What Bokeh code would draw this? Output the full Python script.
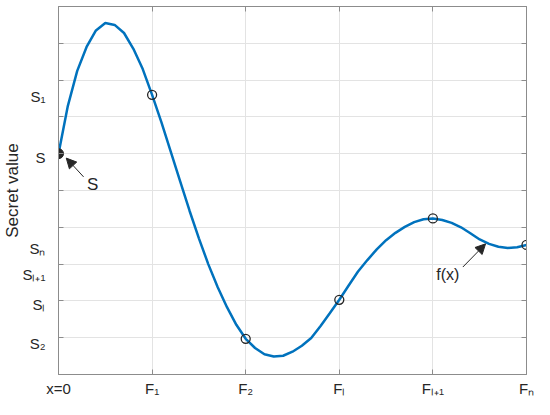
from bokeh.plotting import figure
from bokeh.models import Range1d, FixedTicker, LinearAxis, Label, Arrow, NormalHead
from bokeh.embed import file_html
from bokeh.resources import INLINE

# ---- data ----
curve_x = [0.0, 0.1, 0.2, 0.3, 0.4, 0.5, 0.6, 0.7, 0.8, 0.9,
           1.0, 1.1, 1.2, 1.3, 1.4, 1.5, 1.6, 1.7, 1.8, 1.9,
           2.0, 2.1, 2.2, 2.3, 2.4, 2.5, 2.6, 2.7, 2.8, 2.9,
           3.0, 3.1, 3.2, 3.3, 3.4, 3.5, 3.6, 3.7, 3.8, 3.9,
           4.0, 4.1, 4.2, 4.3, 4.4, 4.5, 4.6, 4.7, 4.8, 4.9, 5.0]
curve_y = [6.00, 7.30, 8.25, 8.90, 9.35, 9.55, 9.50, 9.28, 8.85, 8.30,
           7.60, 6.85, 6.05, 5.25, 4.45, 3.70, 3.00, 2.38, 1.83, 1.35,
           0.97, 0.72, 0.55, 0.49, 0.51, 0.62, 0.78, 0.99, 1.32, 1.67,
           2.03, 2.42, 2.80, 3.11, 3.40, 3.65, 3.85, 4.01, 4.14, 4.22,
           4.24, 4.20, 4.12, 4.00, 3.84, 3.67, 3.55, 3.47, 3.44, 3.46, 3.52]

share_x = [1, 2, 3, 4, 5]
share_y = [7.60, 0.97, 2.03, 4.24, 3.52]
secret_x = [0]
secret_y = [6.0]

x_tick_vals = [0, 1, 2, 3, 4, 5]
x_tick_labels = ["x=0", "F\u2081", "F\u2082", "F\u2097", "F\u2097\u208A\u2081", "F\u2099"]

y_grid_vals = [1, 2, 3, 4, 5, 6, 7, 8, 9]
y_label_vals = [7.55, 5.90, 3.43, 2.71, 1.91, 0.85]
y_label_text = ["S\u2081", "S", "S\u2099", "S\u2097\u208A\u2081", "S\u2097", "S\u2082"]

y_title = "Secret value"

# annotation arrows
arrow_tail_x = [0.268, 4.32]
arrow_tail_y = [5.37, 2.92]
arrow_tip_x = [0.083, 4.5625]
arrow_tip_y = [5.88, 3.55]
arrow_text = ["S", "f(x)"]
arrow_text_x = [0.365, 4.16]
arrow_text_y = [5.15, 2.71]
arrow_text_size = ["17px", "16px"]

# ---- styles ----
FONT = "Liberation Sans"
TXT = "#262626"
AX = "#8c8c8c"

p = figure(width=534, height=399, x_range=Range1d(0, 5), y_range=Range1d(0, 10),
           output_backend="svg", toolbar_location=None,
           min_border_left=56, min_border_right=8,
           min_border_top=6, min_border_bottom=24)
p.background_fill_color = "white"
p.border_fill_color = "white"
p.outline_line_color = AX


def base_axis(ax):
    ax.axis_line_color = AX
    ax.major_tick_line_color = AX
    ax.minor_tick_line_color = AX
    ax.major_tick_in = 5
    ax.major_tick_out = 0
    ax.minor_tick_in = 5
    ax.minor_tick_out = 0
    ax.major_label_text_font = FONT
    ax.major_label_text_color = TXT


def silent_axis(ax, ticks):
    base_axis(ax)
    ax.ticker = FixedTicker(ticks=ticks, minor_ticks=[])
    ax.minor_tick_line_color = None
    ax.major_label_text_color = None
    ax.major_label_text_font_size = "1px"
    ax.major_label_standoff = 0


# bottom axis with labels
xa = p.xaxis[0]
base_axis(xa)
xa.ticker = FixedTicker(ticks=x_tick_vals, minor_ticks=[])
xa.minor_tick_line_color = None
xa.major_label_overrides = {v: t for v, t in zip(x_tick_vals, x_tick_labels)}
xa.major_label_text_font_size = "15px"
xa.major_label_standoff = 5

# left axis: labels at custom positions, tick marks at grid positions
ya = p.yaxis[0]
base_axis(ya)
ya.ticker = FixedTicker(ticks=y_label_vals, minor_ticks=y_grid_vals)
ya.major_tick_line_color = None
ya.major_label_overrides = {v: t for v, t in zip(y_label_vals, y_label_text)}
ya.major_label_text_font_size = "15px"
ya.major_label_standoff = 13
ya.axis_label = y_title
ya.axis_label_text_font = FONT
ya.axis_label_text_font_size = "17px"
ya.axis_label_text_font_style = "normal"
ya.axis_label_text_color = TXT
ya.axis_label_standoff = -3

top_ax = LinearAxis()
silent_axis(top_ax, x_tick_vals)
p.add_layout(top_ax, "above")
right_ax = LinearAxis()
silent_axis(right_ax, y_grid_vals)
p.add_layout(right_ax, "right")

p.xgrid.ticker = FixedTicker(ticks=x_tick_vals[1:-1])
p.ygrid.ticker = FixedTicker(ticks=y_grid_vals)
p.xgrid.grid_line_color = "#e3e3e3"
p.ygrid.grid_line_color = "#e3e3e3"

p.line(curve_x, curve_y, line_color="#0072BD", line_width=2.5)
p.scatter(share_x, share_y, marker="circle", size=9, fill_color=None,
          line_color=TXT, line_width=1.3)
p.scatter(secret_x, secret_y, marker="circle", size=10, fill_color=TXT,
          line_color=TXT)

for i in range(len(arrow_text)):
    p.add_layout(Arrow(end=NormalHead(size=10, fill_color=TXT, line_color=TXT, line_width=1),
                       x_start=arrow_tail_x[i], y_start=arrow_tail_y[i],
                       x_end=arrow_tip_x[i], y_end=arrow_tip_y[i],
                       line_color=TXT, line_width=1))
    p.add_layout(Label(x=arrow_text_x[i], y=arrow_text_y[i], text=arrow_text[i],
                       text_align="center", text_baseline="middle",
                       text_font=FONT, text_font_size=arrow_text_size[i], text_color=TXT))

open("out.html", "w").write(file_html(p, INLINE))
